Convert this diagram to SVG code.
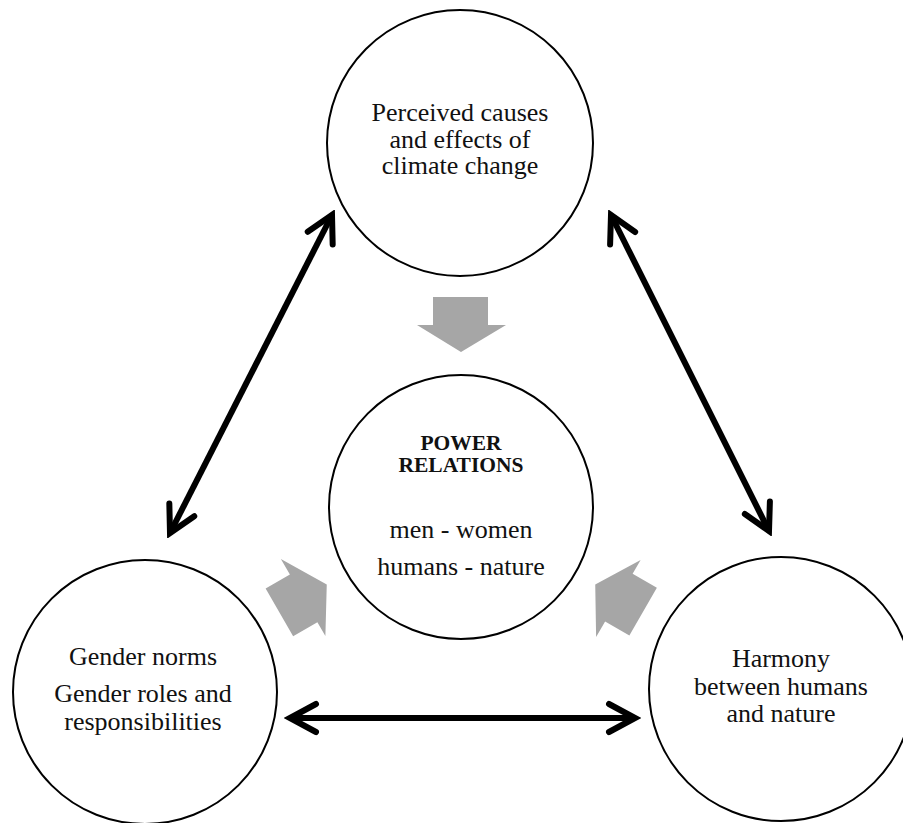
<svg xmlns="http://www.w3.org/2000/svg" width="903" height="823" viewBox="0 0 903 823">
  <style>
    .node { fill: #ffffff; stroke: #000000; stroke-width: 2; }
    .lbl { font-family: "Liberation Serif", "Times New Roman", serif; font-size: 26px; fill: #111111; text-anchor: middle; }
    .bold { font-weight: bold; font-size: 21.5px; }
    .conn { stroke: #000000; stroke-width: 6; fill: none; marker-start: url(#chev); marker-end: url(#chev); }
    .gray { fill: #a6a6a6; }
  </style>
  <defs>
    <marker id="chev" viewBox="-32 -18 38 36" markerWidth="38" markerHeight="36" refX="0" refY="0" markerUnits="userSpaceOnUse" orient="auto-start-reverse">
      <path d="M-26,-14 L0,0 L-26,14" fill="none" stroke="#000000" stroke-width="6" stroke-linecap="round" stroke-linejoin="miter"/>
    </marker>
    <polygon id="blockArrow" class="gray" points="433,297 488,297 488,325 506,325 461,352 417,325 433,325"/>
  </defs>
  <rect width="903" height="823" fill="#ffffff"/>

  <g id="connectors">
    <line class="conn" x1="170" y1="533" x2="332" y2="215"/>
    <line class="conn" x1="611" y1="215" x2="769" y2="531"/>
    <line class="conn" x1="290" y1="718" x2="635" y2="718"/>
    <g id="influence-arrows">
      <use href="#blockArrow"/>
      <use href="#blockArrow" transform="rotate(-120 461 507)"/>
      <use href="#blockArrow" transform="rotate(120 461 507)"/>
    </g>
  </g>

  <g id="node-climate">
    <circle class="node" cx="460" cy="143" r="133"/>
    <text class="lbl" x="460" y="121">Perceived causes</text>
    <text class="lbl" x="460" y="148">and effects of</text>
    <text class="lbl" x="460" y="174">climate change</text>
  </g>

  <g id="node-power">
    <circle class="node" cx="461" cy="507" r="132"/>
    <text class="lbl bold" x="461" y="450">POWER</text>
    <text class="lbl bold" x="461" y="472">RELATIONS</text>
    <text class="lbl" x="461" y="538">men - women</text>
    <text class="lbl" x="461" y="575">humans - nature</text>
  </g>

  <g id="node-gender">
    <circle class="node" cx="145" cy="692" r="132"/>
    <text class="lbl" x="143" y="665">Gender norms</text>
    <text class="lbl" x="143" y="702">Gender roles and</text>
    <text class="lbl" x="143" y="730">responsibilities</text>
  </g>

  <g id="node-harmony">
    <circle class="node" cx="781" cy="689" r="132"/>
    <text class="lbl" x="781" y="667">Harmony</text>
    <text class="lbl" x="781" y="695">between humans</text>
    <text class="lbl" x="781" y="722">and nature</text>
  </g>
</svg>
